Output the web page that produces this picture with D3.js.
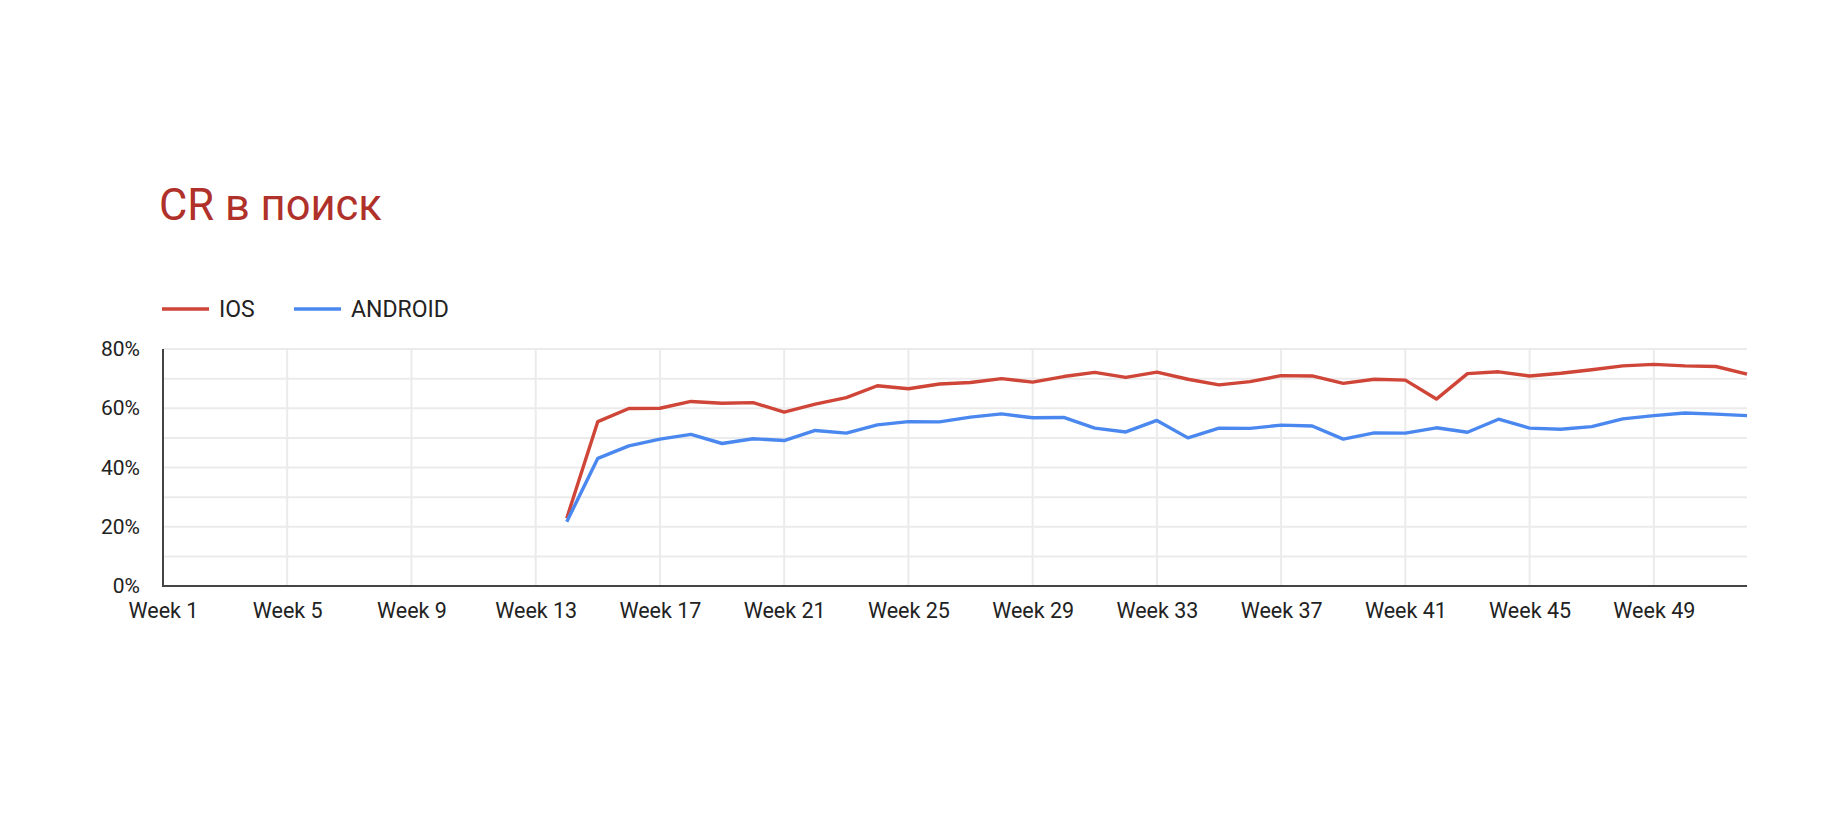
<!DOCTYPE html>
<html>
<head>
<meta charset="utf-8">
<script src="https://cdn.jsdelivr.net/npm/d3@7"></script>
<style>
  html, body { margin: 0; padding: 0; background: #fff; }
  svg { display: block; }
  text { font-family: Roboto, "Noto Sans", sans-serif; }
</style>
</head>
<body>
<svg id="chart" width="1840" height="833"></svg>
<script>
const title = "CR в поиск";
const weeks = Array.from({length: 52}, (_, i) => "Week " + (i + 1));
const tickWeeks = ["Week 1","Week 5","Week 9","Week 13","Week 17","Week 21","Week 25","Week 29","Week 33","Week 37","Week 41","Week 45","Week 49"];
const yTicks = [0, 20, 40, 60, 80];
const yGrid = [0, 10, 20, 30, 40, 50, 60, 70, 80];
const seriesNames = ["IOS", "ANDROID"];
const seriesColors = ["#cf4538", "#4a88f0"];
const iosValues = [null,null,null,null,null,null,null,null,null,null,null,null,null,
  22.9,55.5,59.9,60.0,62.3,61.7,61.9,58.7,61.4,63.6,67.6,66.6,68.2,68.7,70.0,68.8,70.7,72.1,70.4,72.2,69.8,67.9,69.0,71.0,70.9,68.4,69.8,69.5,63.1,71.7,72.3,70.9,71.8,73.0,74.3,74.8,74.3,74.1,71.5];
const androidValues = [null,null,null,null,null,null,null,null,null,null,null,null,null,
  21.7,43.1,47.3,49.6,51.2,48.1,49.7,49.1,52.5,51.6,54.4,55.5,55.4,57.0,58.1,56.8,56.9,53.3,52.0,55.9,50.0,53.3,53.2,54.3,54.0,49.6,51.7,51.6,53.4,51.9,56.3,53.3,52.9,53.8,56.4,57.5,58.4,58.0,57.5];

const svg = d3.select("#chart");
const pLeft = 163, pRight = 1747, pTop = 349, pBottom = 586;

const x = d3.scalePoint().domain(weeks).range([pLeft, pRight]).padding(0);
const y = d3.scaleLinear().domain([0, 80]).range([pBottom, pTop]);

// title
svg.append("text").attr("x", 159).attr("y", 220)
  .attr("font-size", 43.5).attr("fill", "#b0302a").text(title);

// legend
const legendX = [162, 294];
seriesNames.forEach((name, i) => {
  const g = svg.append("g").attr("transform", `translate(${legendX[i]},309)`);
  g.append("line").attr("x1", 0).attr("x2", 47).attr("y1", 0).attr("y2", 0)
    .attr("stroke", seriesColors[i]).attr("stroke-width", 3.5);
  g.append("text").attr("x", 57).attr("y", 8.3).attr("font-size", 23)
    .attr("fill", "#222").text(name);
});

// gridlines
svg.append("g").selectAll("line").data(yGrid).join("line")
  .attr("x1", pLeft).attr("x2", pRight)
  .attr("y1", d => y(d)).attr("y2", d => y(d))
  .attr("stroke", "#ebebeb").attr("stroke-width", 2);
svg.append("g").selectAll("line").data(tickWeeks).join("line")
  .attr("x1", d => x(d)).attr("x2", d => x(d))
  .attr("y1", pTop).attr("y2", pBottom)
  .attr("stroke", "#ebebeb").attr("stroke-width", 2);

// y axis labels
const yAxis = d3.axisLeft(y).tickValues(yTicks).tickFormat(d => d + "%").tickSize(0).tickPadding(23);
const yg = svg.append("g").attr("transform", `translate(${pLeft},0)`).call(yAxis);
yg.select(".domain").remove();
yg.selectAll("text").attr("font-size", 21).attr("fill", "#222")
  .attr("font-family", "Roboto, sans-serif");

// x axis labels
const xAxis = d3.axisBottom(x).tickValues(tickWeeks).tickSize(0).tickPadding(17);
const xg = svg.append("g").attr("transform", `translate(0,${pBottom})`).call(xAxis);
xg.select(".domain").remove();
xg.selectAll("text").attr("font-size", 21.5).attr("fill", "#222")
  .attr("font-family", "Roboto, sans-serif");

// axis lines
svg.append("line").attr("x1", pLeft).attr("x2", pLeft).attr("y1", pTop).attr("y2", pBottom + 1)
  .attr("stroke", "#444").attr("stroke-width", 2);
svg.append("line").attr("x1", pLeft - 1).attr("x2", pRight).attr("y1", pBottom).attr("y2", pBottom)
  .attr("stroke", "#444").attr("stroke-width", 2);

// lines
const line = d3.line()
  .defined(d => d.v !== null)
  .x(d => x(d.w)).y(d => y(d.v));
[iosValues, androidValues].forEach((vals, i) => {
  const data = weeks.map((w, j) => ({w, v: vals[j]}));
  svg.append("path").datum(data)
    .attr("fill", "none").attr("stroke", seriesColors[i])
    .attr("stroke-width", 3.4).attr("stroke-linejoin", "round")
    .attr("d", line);
});
</script>
</body>
</html>
